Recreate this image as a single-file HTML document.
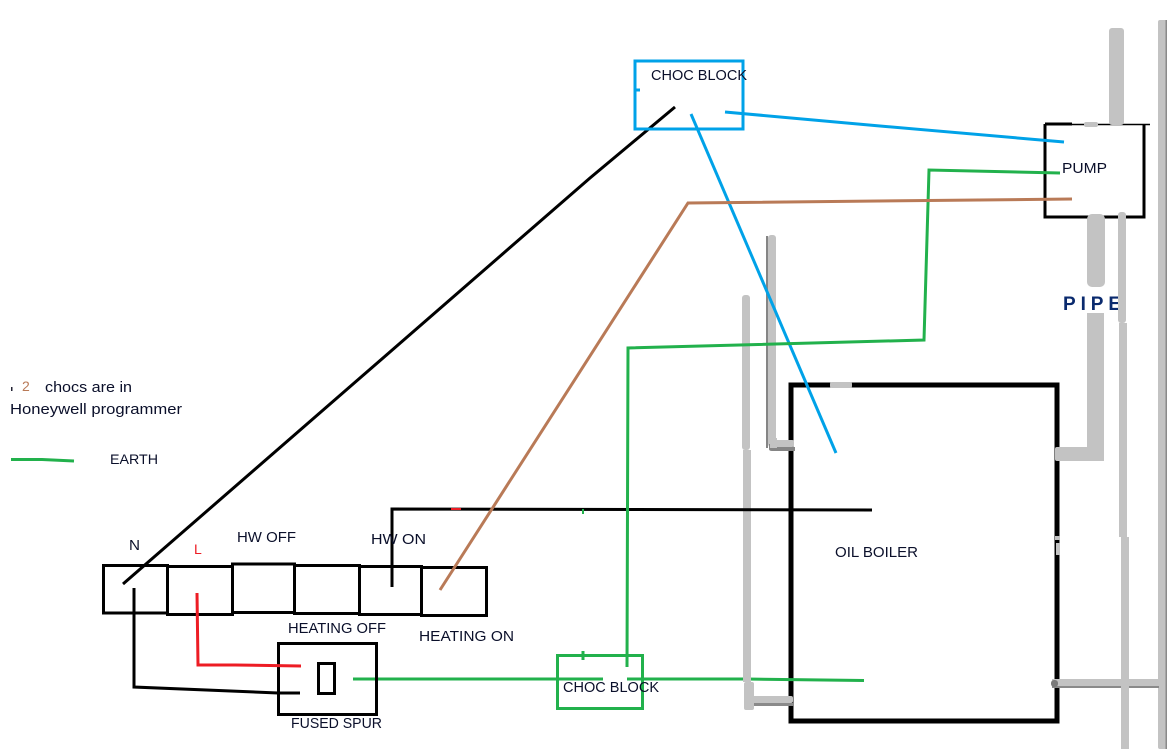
<!DOCTYPE html>
<html><head><meta charset="utf-8"><style>
html,body{margin:0;padding:0;background:#fff;width:1171px;height:749px;overflow:hidden}
svg{display:block}
text{font-family:"Liberation Sans",sans-serif;font-size:15px;fill:#0a0f2a}
</style></head><body>
<svg width="1171" height="749" viewBox="0 0 1171 749" xmlns="http://www.w3.org/2000/svg">
<rect width="1171" height="749" fill="#fff"/>

<!-- black shapes beneath pipes -->
<g fill="none" stroke="#000" stroke-width="3">
<path d="M1045 124V217H1144V125"/>
<path d="M1045 124H1072"/>
<path d="M1072 124.500H1150" stroke-width="1.500"/>
</g>
<path d="M791 717V385H1057V721H791Z" fill="none" stroke="#000" stroke-width="5"/>

<!-- green beneath pipes -->
<g fill="none" stroke="#22b14c" stroke-width="3">
<path d="M353 679H603M627 679H746L864 680.500"/>
</g>

<!-- pipes -->
<g fill="#c3c3c3">
<rect x="1109" y="28" width="15" height="97" rx="3"/>
<rect x="1087" y="214" width="18" height="73" rx="5"/>
<rect x="1087" y="313" width="17" height="148"/>
<rect x="1055" y="447" width="48" height="14" rx="2"/>
<rect x="1158" y="20" width="9" height="729" rx="2"/>
<rect x="1165.500" y="20" width="1.500" height="729" fill="#8a8a8a"/>
<rect x="1052" y="679" width="107" height="7"/>
<rect x="1052" y="686" width="107" height="2" fill="#8a8a8a"/>
<rect x="1084" y="122" width="14" height="5" rx="2"/>
<rect x="742" y="295" width="8" height="155" rx="3"/>
<rect x="743" y="450" width="8" height="232"/>
<rect x="744" y="682" width="10" height="28" rx="2"/>
<rect x="830" y="382" width="22" height="6" rx="2"/>
</g>
<rect x="766" y="236" width="2" height="212" fill="#858585"/>
<rect x="768" y="235" width="8" height="212" rx="3" fill="#c3c3c3"/>
<path d="M769 444V449Q769 451 772 451H795V447H778V444Z" fill="#858585"/>
<rect x="770" y="438" width="7" height="10" fill="#c3c3c3"/>
<rect x="770" y="440" width="24" height="7" rx="2" fill="#c3c3c3"/>
<rect x="754" y="703" width="40" height="3" fill="#8a8a8a"/>
<rect x="750" y="696" width="43" height="7" rx="2" fill="#c3c3c3"/>
<rect x="1055" y="536" width="5" height="4" fill="#c3c3c3"/>
<rect x="1056" y="543" width="4" height="12" fill="#c3c3c3"/>
<rect x="1051" y="680" width="7" height="7" rx="3" fill="#7a7a7a"/>

<!-- black wiring and terminal strip -->
<g fill="none" stroke="#000" stroke-width="3">
<rect x="103.500" y="565.500" width="64" height="47.500"/>
<rect x="167.500" y="566.500" width="65" height="48"/>
<rect x="232.500" y="564" width="62" height="48.500"/>
<rect x="294.500" y="565.500" width="65" height="48"/>
<rect x="359.500" y="566.500" width="62" height="48"/>
<rect x="421.500" y="567.500" width="65" height="48"/>
<rect x="278.500" y="643.500" width="98" height="71"/>
<rect x="318.500" y="663.500" width="16" height="30"/>
<path d="M134 588V687L278 693H300"/>
<path d="M123 584L590 178L675 107"/>
<path d="M392 587V509L872 510"/>
</g>

<path d="M197 593L198 665H235L301 666" fill="none" stroke="#ed1c24" stroke-width="3"/>
<rect x="451" y="508" width="10" height="2" fill="#ed1c24"/>

<g fill="none" stroke="#00a2e8">
<rect x="635" y="61" width="108" height="68" stroke-width="3"/>
<path d="M636 90H640" stroke-width="3"/>
<path d="M725 112L880 126L1064 142" stroke-width="3"/>
<path d="M691 114L836 453" stroke-width="3"/>
</g>

<g fill="none" stroke="#22b14c" stroke-width="3">
<path d="M11 459.500H42L74 461"/>
<rect x="557.500" y="655.500" width="85" height="53"/>
<path d="M583 651V660"/>
<path d="M540 679H556"/>
<path d="M627 667L628 348L924 340L929 170L1060 173"/>
</g>
<rect x="582" y="509" width="2" height="5" fill="#22b14c"/>

<path d="M440 590L688 203L1072 199" fill="none" stroke="#b97a57" stroke-width="3"/>

<!-- PIPE label, with the thin pipe drawn across its last letter -->
<text x="1063" y="310" textLength="58" lengthAdjust="spacing" style="font-size:19px;font-weight:bold;fill:#0a2a6e">PIPE</text>
<g fill="#c3c3c3">
<rect x="1118" y="212" width="8" height="111" rx="3"/>
<rect x="1119" y="323" width="8" height="214"/>
<rect x="1121" y="537" width="8" height="212"/>
</g>

<text x="651" y="80" textLength="96" lengthAdjust="spacingAndGlyphs">CHOC BLOCK</text>
<text x="1062" y="173" textLength="45" lengthAdjust="spacingAndGlyphs">PUMP</text>
<text x="45" y="392" textLength="87" lengthAdjust="spacingAndGlyphs">chocs are in</text>
<text x="10" y="414" textLength="172" lengthAdjust="spacingAndGlyphs">Honeywell programmer</text>
<text x="22" y="391" style="font-size:14px;fill:#b97a57">2</text>
<rect x="11" y="387" width="1.500" height="4" fill="#223"/>
<text x="110" y="464" textLength="48" lengthAdjust="spacingAndGlyphs" style="font-size:14px">EARTH</text>
<text x="129" y="550" textLength="11" lengthAdjust="spacingAndGlyphs">N</text>
<text x="194" y="554" style="font-size:14px;fill:#ed1c24">L</text>
<text x="237" y="542" textLength="59" lengthAdjust="spacingAndGlyphs">HW OFF</text>
<text x="371" y="544" textLength="55" lengthAdjust="spacingAndGlyphs">HW ON</text>
<text x="288" y="633" textLength="98" lengthAdjust="spacingAndGlyphs">HEATING OFF</text>
<text x="419" y="641" textLength="95" lengthAdjust="spacingAndGlyphs">HEATING ON</text>
<text x="291" y="728" textLength="91" lengthAdjust="spacingAndGlyphs">FUSED SPUR</text>
<text x="563" y="692" textLength="96" lengthAdjust="spacingAndGlyphs">CHOC BLOCK</text>
<text x="835" y="557" textLength="83" lengthAdjust="spacingAndGlyphs">OIL BOILER</text>
</svg>
</body></html>
